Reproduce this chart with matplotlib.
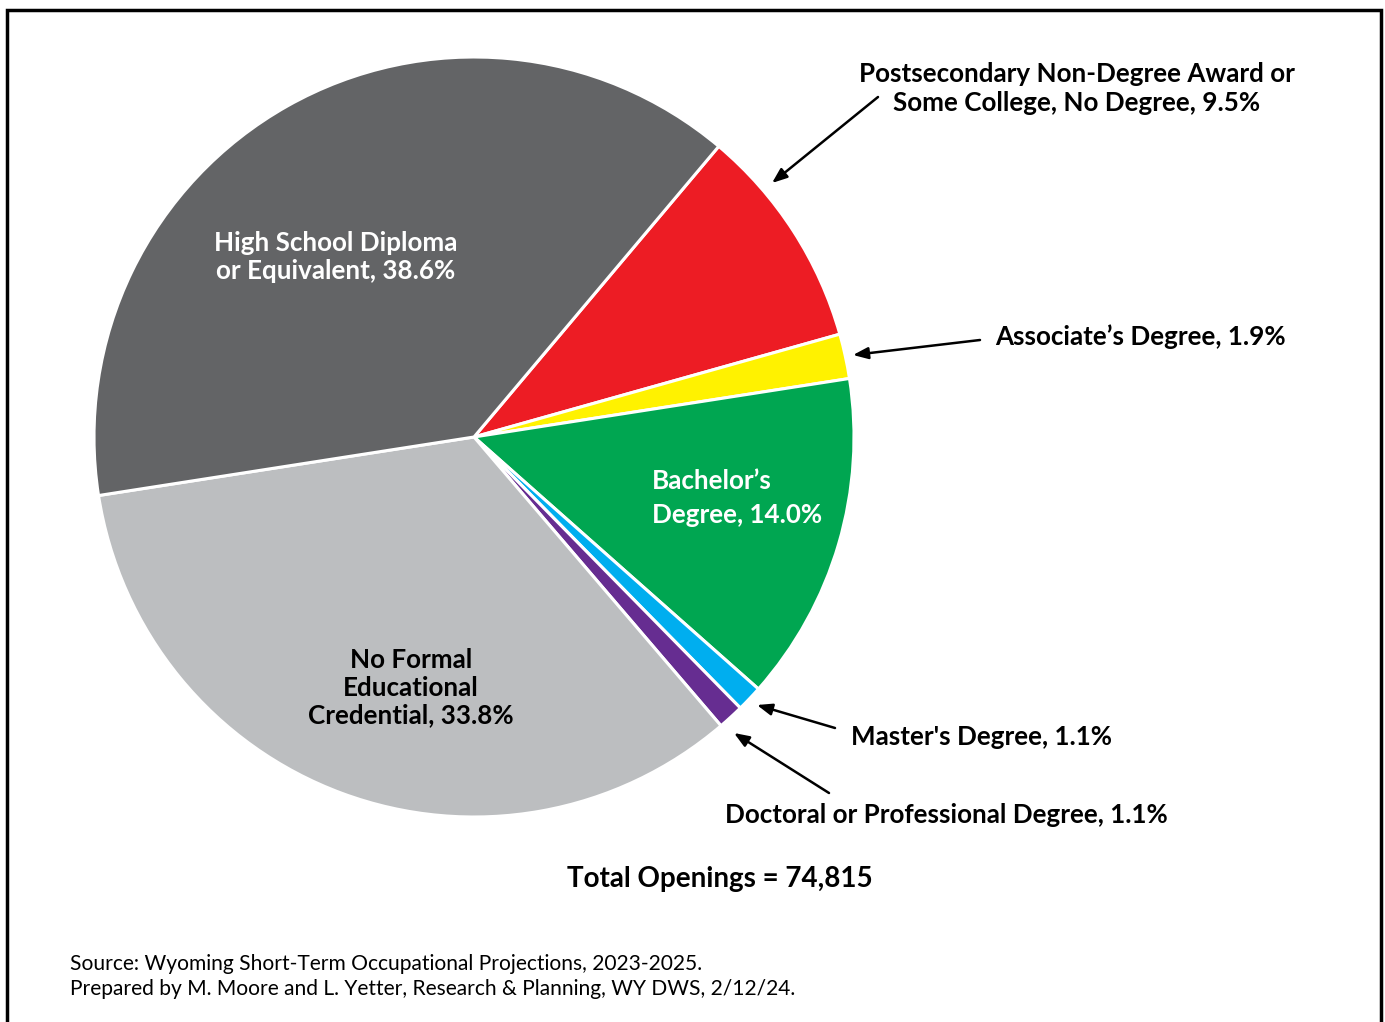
import matplotlib.pyplot as plt
from matplotlib.patches import Rectangle

# education levels, typical entry requirement for openings
categories = ["Postsecondary Non-Degree Award or Some College, No Degree",
              "Associate's Degree", "Bachelor's Degree", "Master's Degree",
              "Doctoral or Professional Degree", "No Formal Educational Credential",
              "High School Diploma or Equivalent"]
shares = [9.5, 1.9, 14.0, 1.1, 1.1, 33.8, 38.6]
colors = ["#ED1C24", "#FFF200", "#00A651", "#00AEEF", "#662D91", "#BCBEC0", "#636466"]
total_openings = 74815

W, H = 1385, 1022
FONT = "Lato"


def py(y):
    # pixel row (from top) -> data y
    return H - y


fig = plt.figure(figsize=(W / 100, H / 100), dpi=100)
ax = fig.add_axes([0, 0, 1, 1])

ax.pie(shares, colors=colors, startangle=49.9, counterclock=False,
       center=(474, py(437)), radius=380,
       wedgeprops=dict(edgecolor="white", linewidth=2.2))

# pie() resets the limits, so set them afterwards
ax.set_xlim(0, W)
ax.set_ylim(0, H)
ax.set_aspect("equal")
ax.axis("off")

ax.add_patch(Rectangle((7, -20), 1374, py(10) + 20, fill=False, ec="black", lw=2.5))

bold = dict(family=FONT, fontweight="bold", fontsize=18.7)

ax.text(336, py(257), "High School Diploma\nor Equivalent, %.1f%%" % shares[6],
        color="white", ha="center", va="center", linespacing=1.18, **bold)
ax.text(652, py(498), "Bachelor\u2019s\nDegree, %.1f%%" % shares[2],
        color="white", ha="left", va="center", linespacing=1.48, **bold)
ax.text(411, py(688), "No Formal\nEducational\nCredential, %.1f%%" % shares[5],
        color="black", ha="center", va="center", linespacing=1.18, **bold)

arrow = dict(arrowstyle="-|>,head_length=0.9,head_width=0.35", color="black", lw=1.8,
             shrinkA=0, shrinkB=0)

ax.annotate("", xy=(772, py(183)), xytext=(878, py(97)), arrowprops=arrow)
ax.text(1077, py(88), "Postsecondary Non-Degree Award or\nSome College, No Degree, %.1f%%" % shares[0],
        ha="center", va="center", linespacing=1.25, **bold)

ax.annotate("", xy=(853, py(355)), xytext=(980, py(340)), arrowprops=arrow)
ax.text(995, py(337), "Associate\u2019s Degree, %.1f%%" % shares[1],
        ha="left", va="center", **bold)

ax.annotate("", xy=(757, py(705)), xytext=(835, py(728)), arrowprops=arrow)
ax.text(851, py(737), "Master's Degree, %.1f%%" % shares[3],
        ha="left", va="center", **bold)

ax.annotate("", xy=(734, py(733)), xytext=(829, py(793)), arrowprops=arrow)
ax.text(725, py(815), "Doctoral or Professional Degree, %.1f%%" % shares[4],
        ha="left", va="center", **bold)

ax.text(720, py(879), "Total Openings = {:,}".format(total_openings),
        ha="center", va="center", family=FONT, fontweight="bold", fontsize=20)

ax.text(70, py(964), "Source: Wyoming Short-Term Occupational Projections, 2023-2025.",
        ha="left", va="center", family=FONT, fontsize=15.1)
ax.text(70, py(989), "Prepared by M. Moore and L. Yetter, Research & Planning, WY DWS, 2/12/24.",
        ha="left", va="center", family=FONT, fontsize=15.1)

fig.savefig("out.png", dpi=100)
